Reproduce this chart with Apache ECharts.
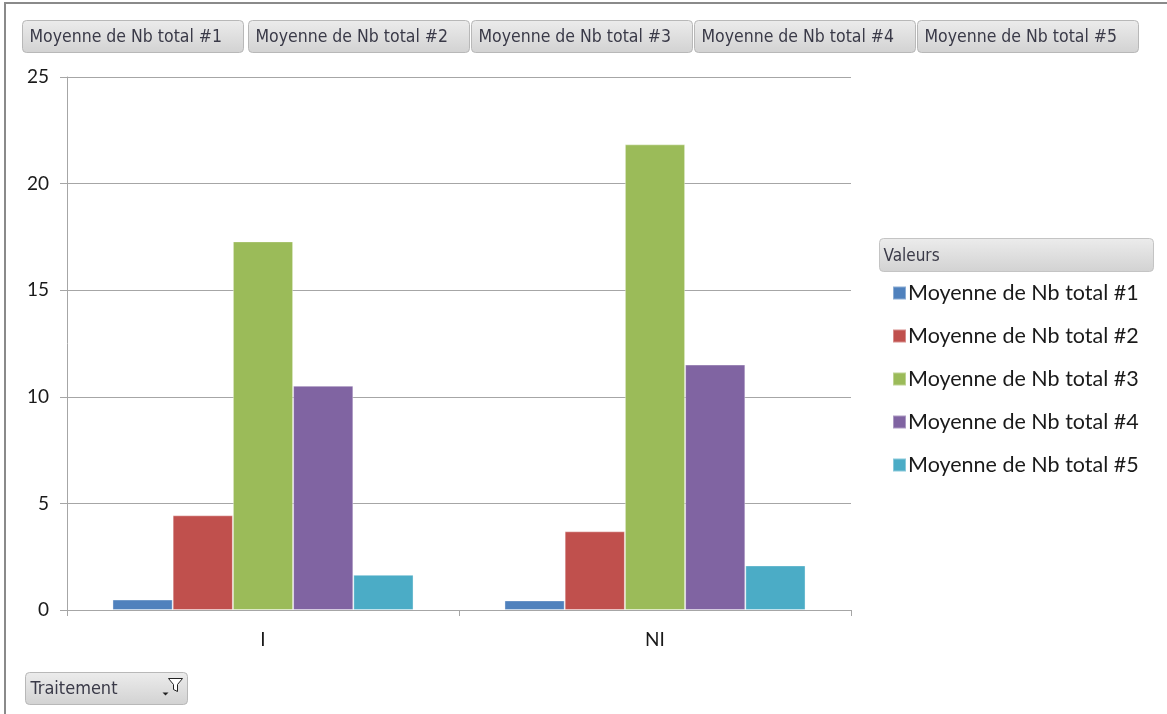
<!DOCTYPE html>
<html>
<head>
<meta charset="utf-8">
<script src="https://cdn.jsdelivr.net/npm/echarts@6/dist/echarts.min.js"></script>
<style>
  html, body { margin: 0; padding: 0; background: #fff; }
  #chart { width: 1167px; height: 714px; }
</style>
</head>
<body>
<div id="chart"></div>
<script>
// Pivot chart: mean of "Nb total" per treatment group
const categories = ['I', 'NI'];
const seriesNames = [
  'Moyenne de Nb total #1',
  'Moyenne de Nb total #2',
  'Moyenne de Nb total #3',
  'Moyenne de Nb total #4',
  'Moyenne de Nb total #5'
];
const total1 = [0.49, 0.45];
const total2 = [4.44, 3.69];
const total3 = [17.29, 21.84];
const total4 = [10.52, 11.51];
const total5 = [1.65, 2.09];
const seriesValues = [total1, total2, total3, total4, total5];
const colors = ['#4F81BD', '#C0504D', '#9BBB59', '#8064A2', '#4BACC6'];
const yTicks = { min: 0, max: 25, interval: 5 };

const chart = echarts.init(document.getElementById('chart'), null, { renderer: 'canvas' });

const btnFont = '"DejaVu Sans Condensed", "Liberation Sans Narrow", "DejaVu Sans", sans-serif';
const mainFont = 'Lato, "Open Sans", sans-serif';

const btnGradient = new echarts.graphic.LinearGradient(0, 0, 0, 1, [
  { offset: 0, color: '#ececec' },
  { offset: 1, color: '#d2d2d2' }
]);

// Field buttons along the top of the pivot chart
function fieldButton(x, y, w, h, label, fontSize) {
  return {
    type: 'group',
    left: x, top: y,
    children: [
      { type: 'rect', shape: { x: 0, y: 0, width: w, height: h, r: 4 },
        style: { fill: btnGradient, stroke: '#b8b8b8', lineWidth: 1 } },
      { type: 'text', x: 7, y: h / 2 + 1,
        style: { text: label, font: fontSize + 'px ' + btnFont, fill: '#3a3a48',
                 verticalAlign: 'middle' } }
    ]
  };
}

const graphics = [];
// outer frame
graphics.push({ type: 'rect', shape: { x: 5, y: 3, width: 1200, height: 760 },
  style: { fill: 'none', stroke: '#8a8a8a', lineWidth: 2 }, silent: true });

const btnX = [22, 248, 471, 694, 917];
seriesNames.forEach((name, i) => {
  graphics.push(fieldButton(btnX[i], 20, 221, 32, name, 17.5));
});

// "Valeurs" legend header
graphics.push({
  type: 'group', left: 879, top: 238,
  children: [
    { type: 'rect', shape: { x: 0, y: 0, width: 274, height: 33, r: 4 },
      style: { fill: btnGradient, stroke: '#c4c4c4', lineWidth: 1 } },
    { type: 'text', x: 4, y: 18,
      style: { text: 'Valeurs', font: '17px ' + btnFont, fill: '#3a3a48', verticalAlign: 'middle' } }
  ]
});

// "Traitement" axis field button with filter icon
graphics.push({
  type: 'group', left: 25, top: 672,
  children: [
    { type: 'rect', shape: { x: 0, y: 0, width: 162, height: 32, r: 4 },
      style: { fill: btnGradient, stroke: '#b8b8b8', lineWidth: 1 } },
    { type: 'text', x: 5, y: 17,
      style: { text: 'Traitement', font: '18px ' + btnFont, fill: '#3a3a48', verticalAlign: 'middle' } },
    { type: 'polygon', shape: { points: [[143, 6], [157, 6], [152, 12], [152, 19], [148, 17], [148, 12]] },
      style: { fill: '#fff', stroke: '#222', lineWidth: 1 } },
    { type: 'polygon', shape: { points: [[137, 20], [143, 20], [140, 23]] },
      style: { fill: '#222' } }
  ]
});

const series = seriesNames.map((name, i) => ({
  name: name,
  type: 'bar',
  data: seriesValues[i],
  barGap: '0%',
  barCategoryGap: '23.2%',
  itemStyle: { color: colors[i], borderColor: 'rgba(255,255,255,0.35)', borderWidth: 1 }
}));

chart.setOption({
  animation: false,
  backgroundColor: '#ffffff',
  textStyle: { fontFamily: mainFont },
  grid: { left: 67, right: 316, top: 77, bottom: 104, containLabel: false },
  legend: {
    data: seriesNames,
    orient: 'vertical',
    left: 887,
    top: 277,
    icon: 'rect',
    itemWidth: 13,
    itemHeight: 13,
    itemGap: 21,
    textStyle: { fontFamily: mainFont, fontSize: 21.5, color: '#1a1a1a', padding: [0, 0, 0, -3] },
    selectedMode: false
  },
  xAxis: {
    type: 'category',
    data: categories,
    axisLine: { lineStyle: { color: '#a6a6a6', width: 1 } },
    axisTick: { show: true, length: 6, lineStyle: { color: '#a6a6a6' } },
    axisLabel: { fontSize: 19, color: '#1a1a1a', margin: 20, fontFamily: mainFont },
    splitLine: { show: false }
  },
  yAxis: {
    type: 'value',
    min: yTicks.min, max: yTicks.max, interval: yTicks.interval,
    axisLine: { show: true, lineStyle: { color: '#a6a6a6', width: 1 } },
    axisTick: { show: true, length: 7, lineStyle: { color: '#a6a6a6' } },
    axisLabel: { fontSize: 19, color: '#1a1a1a', margin: 18, fontFamily: mainFont },
    splitLine: { show: true, lineStyle: { color: '#a6a6a6', width: 1 } }
  },
  series: series,
  graphic: graphics
});
</script>
</body>
</html>
